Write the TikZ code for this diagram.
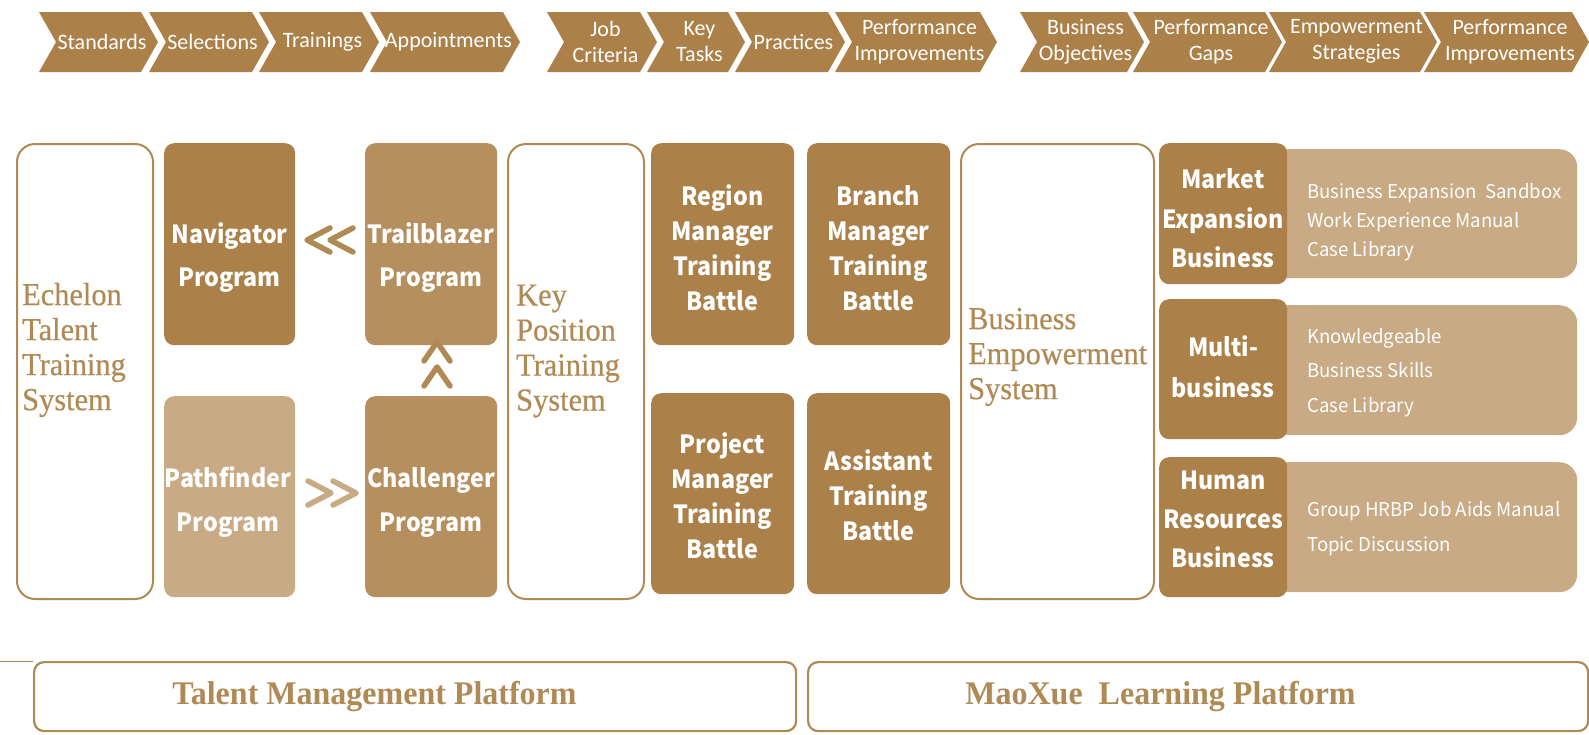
\documentclass[tikz,border=0pt]{standalone}
\usepackage{fontspec}
\setmainfont{Liberation Serif}
\newfontfamily\serf{Liberation Serif}[FakeStretch=0.95, FakeBold=0.4]
\newfontfamily\serfb{Liberation Serif}[FakeStretch=0.97]
\newfontfamily\cjkf{Noto Sans CJK SC}[FakeStretch=0.93]
\newfontfamily\panf{Noto Sans CJK SC}[FakeStretch=0.98]
\newfontfamily\chevf{Carlito}
\definecolor{dark}{HTML}{AB8149}
\definecolor{mid}{HTML}{B58F5D}
\definecolor{light}{HTML}{C8AA84}
\definecolor{edge}{HTML}{B08A55}
\tikzset{
  darkbox/.style={fill=dark, rounded corners=10pt, inner sep=0pt, anchor=north west},
  midbox/.style={fill=mid, rounded corners=10pt, inner sep=0pt, anchor=north west},
  lightbox/.style={fill=light, rounded corners=10pt, inner sep=0pt, anchor=north west},
  panel/.style={fill=light, rounded corners=18pt, inner sep=0pt, anchor=north west},
  outline/.style={draw=edge, line width=2pt, fill=white, rounded corners=18pt, inner sep=0pt, anchor=north west},
  platform/.style={draw=edge, line width=2.2pt, fill=white, rounded corners=10pt, inner sep=0pt, anchor=north west},
  btext/.style={text=white, align=center, inner sep=0pt, font={\cjkf\bfseries\fontsize{25}{35}\selectfont}},
  ptext/.style={text=white, align=left, inner sep=0pt, anchor=west, font={\panf\fontsize{19}{29}\selectfont}},
  stext/.style={text=edge, align=left, inner sep=0pt, anchor=west, font={\serf\fontsize{32}{35}\selectfont}},
  ctext/.style={text=white, align=center, inner sep=0pt, font={\chevf\fontsize{22}{26}\selectfont}},
  marks/.style={draw=edge, line width=5.5pt, line cap=round, line join=round},
}
\begin{document}
\begin{tikzpicture}[x=1pt,y=-1pt]
\useasboundingbox (0,0) rectangle (1589,734);
\fill[white] (0,0) rectangle (1589,734);

% chevrons
\foreach \L/\R/\t/\n in {39/141/Standards/c1, 149/252/Selections/c2, 259/362/Trainings/c3, 370/503/Appointments/c4,
  547/640/{Job\\Criteria}/c5, 647/728/{Key\\Tasks}/c6, 735/828/Practices/c7, 835/980/{Performance\\Improvements}/c8,
  1020/1127/{Business\\Objectives}/c9, 1133/1265/{Performance\\Gaps}/c10, 1269/1420/{Empowerment\\Strategies}/c11, 1424/1572/{Performance\\Improvements}/c12}{
  \fill[dark] (\L,12) -- (\R,12) -- (\R+17,42) -- (\R,72) -- (\L,72) -- (\L+17,42) -- cycle;
  \node[ctext] (\n) at ({(\L+\R)/2+12},41.5) {\t};
}

% left column
\node[outline, minimum width=136, minimum height=455] (ech) at (16,143) {};
\node[stext] (echT) at (22,350) {Echelon\\Talent\\Training\\System};

\node[darkbox, minimum width=131, minimum height=202] (nav) at (164,143) {};
\node[midbox, minimum width=132, minimum height=202] (trail) at (365,143) {};
\node[lightbox, minimum width=131, minimum height=201] (path) at (164,396) {};
\node[midbox, minimum width=132, minimum height=201] (chall) at (365,396) {};
\node[btext, font={\cjkf\bfseries\fontsize{25}{43}\selectfont}] (navT) at (229.5,258) {Navigator\\Program};
\node[btext, font={\cjkf\bfseries\fontsize{25}{43}\selectfont}] (trailT) at (431,258) {Trailblazer\\Program};
\node[btext, font={\cjkf\bfseries\fontsize{25}{44}\selectfont}] (pathT) at (228,502) {Pathfinder\\Program};
\node[btext, font={\cjkf\bfseries\fontsize{25}{44}\selectfont}] (challT) at (431,502) {Challenger\\Program};

% double chevron marks
\draw[marks] (330,228) -- (307,240) -- (330,252);
\draw[marks] (353,228) -- (330,240) -- (353,252);
\draw[marks, draw=light] (308,481) -- (331,493) -- (308,505);
\draw[marks, draw=light] (333,481) -- (356,493) -- (333,505);
\draw[marks] (424,361) -- (437,342) -- (450,361);
\draw[marks] (424,386) -- (437,367) -- (450,386);

% key position
\node[outline, minimum width=136, minimum height=455] (key) at (507,143) {};
\node[stext] (keyT) at (516,351) {Key\\Position\\Training\\System};
\node[darkbox, minimum width=143, minimum height=202] (reg) at (651,143) {};
\node[darkbox, minimum width=143, minimum height=202] (bra) at (807,143) {};
\node[darkbox, minimum width=143, minimum height=201] (pro) at (651,393) {};
\node[darkbox, minimum width=143, minimum height=201] (ass) at (807,393) {};
\node[btext] (regT) at (722.5,248) {Region\\Manager\\Training\\Battle};
\node[btext] (braT) at (878.5,248) {Branch\\Manager\\Training\\Battle};
\node[btext] (proT) at (722.5,496) {Project\\Manager\\Training\\Battle};
\node[btext] (assT) at (878.5,495.5) {Assistant\\Training\\Battle};

% business empowerment
\node[outline, minimum width=193, minimum height=455] (bes) at (960,143) {};
\node[stext] (besT) at (968,357) {Business\\Empowerment\\System};

\node[panel, minimum width=307, minimum height=129] (p1) at (1270,149) {};
\node[panel, minimum width=307, minimum height=130] (p2) at (1270,305) {};
\node[panel, minimum width=307, minimum height=130] (p3) at (1270,462) {};
\node[darkbox, minimum width=128, minimum height=141] (m1) at (1159,143) {};
\node[darkbox, minimum width=128, minimum height=140] (m2) at (1159,299) {};
\node[darkbox, minimum width=128, minimum height=140] (m3) at (1159,457) {};
\node[btext, font={\cjkf\bfseries\fontsize{25}{39.5}\selectfont}] (m1T) at (1223,218.5) {Market\\Expansion\\Business};
\node[btext, font={\cjkf\bfseries\fontsize{25}{41}\selectfont}] (m2T) at (1223,367) {Multi-\\business};
\node[btext, font={\cjkf\bfseries\fontsize{25}{39}\selectfont}] (m3T) at (1223,519) {Human\\Resources\\Business};
\node[ptext] (p1T) at (1307,222) {Business Expansion\ \ Sandbox\\Work Experience Manual\\Case Library};
\node[ptext, font={\panf\fontsize{19}{34.5}\selectfont}] (p2T) at (1307,372.5) {Knowledgeable\\Business Skills\\Case Library};
\node[ptext, font={\panf\fontsize{19}{35}\selectfont}] (p3T) at (1307,528.5) {Group HRBP Job Aids Manual\\Topic Discussion};

% platforms
\node[platform, minimum width=762, minimum height=69] (tmp) at (33,661) {};
\node[platform, minimum width=780, minimum height=69] (mxp) at (807,661) {};
\coordinate (lf) at (0,661);
\draw[edge, line width=1pt] (lf) -- (tmp.north west);
\node[text=edge, font={\serfb\bfseries\fontsize{33}{35}\selectfont}, inner sep=0pt] (tmpT) at (374.5,697) {Talent Management Platform};
\node[text=edge, font={\serfb\bfseries\fontsize{33}{35}\selectfont}, inner sep=0pt] (mxpT) at (1160.5,697) {MaoXue\ \ Learning Platform};
\end{tikzpicture}
\end{document}
